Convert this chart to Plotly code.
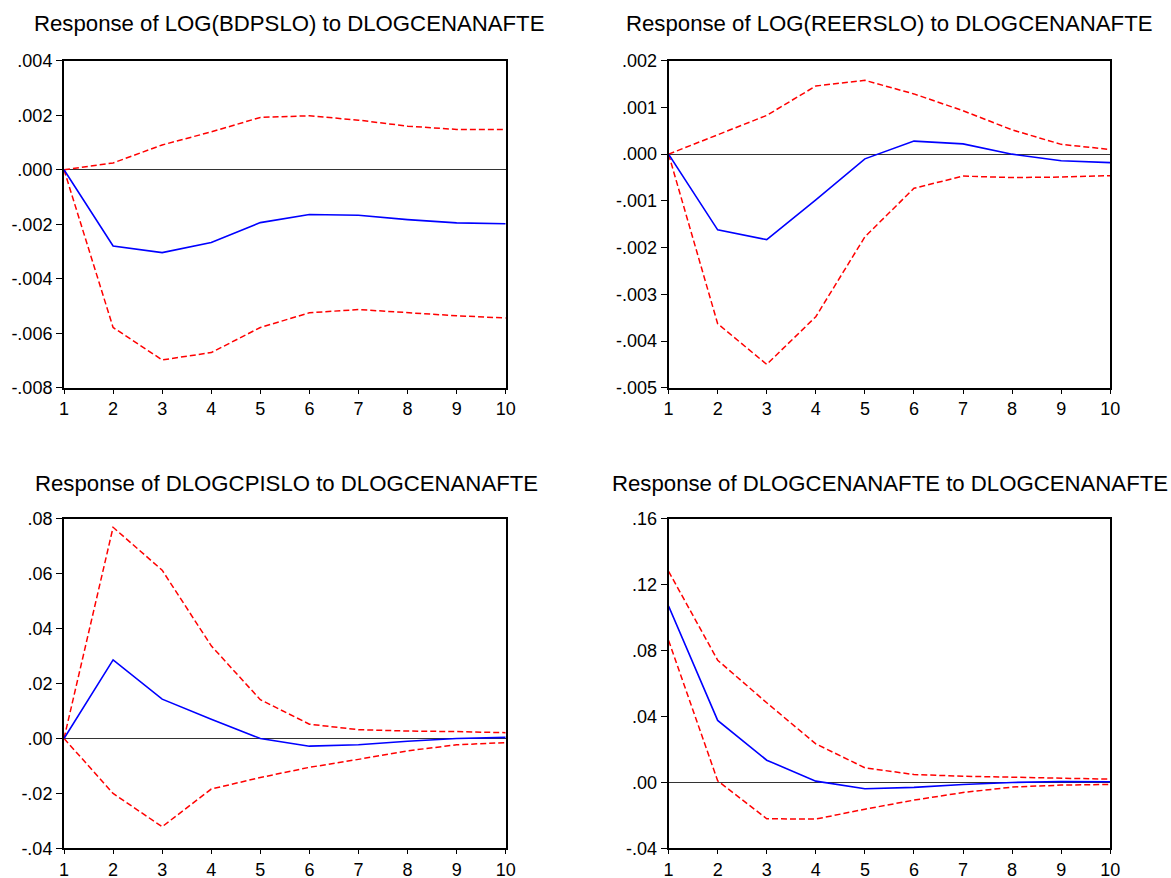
import plotly.graph_objects as go

periods = [1, 2, 3, 4, 5, 6, 7, 8, 9, 10]

titles = [
    "Response of LOG(BDPSLO) to DLOGCENANAFTE",
    "Response of LOG(REERSLO) to DLOGCENANAFTE",
    "Response of DLOGCPISLO to DLOGCENANAFTE",
    "Response of DLOGCENANAFTE to DLOGCENANAFTE",
]

# Panel 1: LOG(BDPSLO)
bdp_resp = [0.0, -0.00280, -0.00304, -0.00267, -0.00194, -0.00164, -0.00167, -0.00183, -0.00195, -0.00198]
bdp_upper = [0.0, 0.00025, 0.00091, 0.00139, 0.00192, 0.00198, 0.00182, 0.00160, 0.00148, 0.00148]
bdp_lower = [0.0, -0.00579, -0.00698, -0.00671, -0.00579, -0.00525, -0.00513, -0.00525, -0.00536, -0.00544]

# Panel 2: LOG(REERSLO)
reer_resp = [0.0, -0.00162, -0.00183, -0.00098, -0.00010, 0.00028, 0.00022, 0.00000, -0.00014, -0.00018]
reer_upper = [0.0, 0.00042, 0.00083, 0.00146, 0.00158, 0.00129, 0.00093, 0.00052, 0.00021, 0.00010]
reer_lower = [0.0, -0.00363, -0.00450, -0.00348, -0.00177, -0.00073, -0.00047, -0.00050, -0.00049, -0.00046]

# Panel 3: DLOGCPISLO
cpi_resp = [0.0, 0.0286, 0.0143, 0.0070, 0.0000, -0.0028, -0.0023, -0.0010, 0.0000, 0.0004]
cpi_upper = [0.0, 0.0768, 0.0612, 0.0337, 0.0141, 0.0052, 0.0032, 0.0027, 0.0025, 0.0021]
cpi_lower = [0.0, -0.0200, -0.0321, -0.0184, -0.0142, -0.0105, -0.0076, -0.0045, -0.0023, -0.0015]

# Panel 4: DLOGCENANAFTE
oil_resp = [0.1069, 0.0376, 0.0135, 0.0008, -0.0038, -0.0030, -0.0012, 0.0000, 0.0006, 0.0004]
oil_upper = [0.1280, 0.0741, 0.0483, 0.0234, 0.0089, 0.0048, 0.0038, 0.0032, 0.0026, 0.0020]
oil_lower = [0.0861, 0.0010, -0.0220, -0.0222, -0.0162, -0.0107, -0.0061, -0.0028, -0.0016, -0.0012]

y1_ticks = [-0.008, -0.006, -0.004, -0.002, 0.0, 0.002, 0.004]
y1_text = ["-.008", "-.006", "-.004", "-.002", ".000", ".002", ".004"]
y2_ticks = [-0.005, -0.004, -0.003, -0.002, -0.001, 0.0, 0.001, 0.002]
y2_text = ["-.005", "-.004", "-.003", "-.002", "-.001", ".000", ".001", ".002"]
y3_ticks = [-0.04, -0.02, 0.0, 0.02, 0.04, 0.06, 0.08]
y3_text = ["-.04", "-.02", ".00", ".02", ".04", ".06", ".08"]
y4_ticks = [-0.04, 0.0, 0.04, 0.08, 0.12, 0.16]
y4_text = ["-.04", ".00", ".04", ".08", ".12", ".16"]

panels = [
    (bdp_resp, bdp_upper, bdp_lower, y1_ticks, y1_text),
    (reer_resp, reer_upper, reer_lower, y2_ticks, y2_text),
    (cpi_resp, cpi_upper, cpi_lower, y3_ticks, y3_text),
    (oil_resp, oil_upper, oil_lower, y4_ticks, y4_text),
]

W, H = 1180, 880
# calibration of figure pixels -> photographed pixels
SX, MX = 0.988, 5.0
SY, MY = 0.976, 9.0


def fx(px):
    return px / SX - MX


def fy(py):
    return py / SY - MY


# target pixel boxes in the picture (left, right, top, bottom)
boxes = [
    (64, 506, 60, 390),
    (669, 1111, 60, 390),
    (64, 506, 522, 855),
    (669, 1111, 522, 855),
]
title_pos = [(289, 22), (890, 22), (287, 487), (891, 487)]

FONT = "Liberation Sans, Arial, sans-serif"
fig = go.Figure()
layout = {}
annotations = []
for i, (resp, up, lo, yt, ytxt) in enumerate(panels):
    n = i + 1
    xa = "x" if n == 1 else f"x{n}"
    ya = "y" if n == 1 else f"y{n}"
    for vals, color, dash, width in [
        (up, "#FF0000", "6px,3px", 1.5),
        (lo, "#FF0000", "6px,3px", 1.5),
        (resp, "#0000FF", "solid", 1.6),
    ]:
        fig.add_trace(go.Scatter(x=periods, y=vals, mode="lines", xaxis=xa, yaxis=ya,
                                 line=dict(color=color, dash=dash, width=width),
                                 showlegend=False, hoverinfo="skip"))
    l, r, t, b = boxes[i]
    l, r, t, b = fx(l), fx(r), fy(t), fy(b)
    xkey = "xaxis" if n == 1 else f"xaxis{n}"
    ykey = "yaxis" if n == 1 else f"yaxis{n}"
    layout[xkey] = dict(domain=[l / W, r / W], anchor=ya, range=[1, 10],
                        tickvals=periods, ticktext=[str(p) for p in periods],
                        showline=True, linecolor="black", linewidth=2, mirror=True,
                        ticks="outside", ticklen=4, tickcolor="black", tickwidth=1,
                        showgrid=False, zeroline=False,
                        tickfont=dict(family=FONT, size=18, color="black"))
    layout[ykey] = dict(domain=[1 - b / H, 1 - t / H], anchor=xa, range=[yt[0], yt[-1]],
                        tickvals=yt, ticktext=ytxt,
                        showline=True, linecolor="black", linewidth=2, mirror=True,
                        ticks="outside", ticklen=6, tickcolor="black", tickwidth=1,
                        showgrid=False, zeroline=True, zerolinecolor="#333333", zerolinewidth=1,
                        tickfont=dict(family=FONT, size=18, color="black"))
    tx, ty = title_pos[i]
    annotations.append(dict(text=titles[i], x=fx(tx) / W, y=1 - fy(ty) / H,
                            xref="paper", yref="paper",
                            showarrow=False, xanchor="center", yanchor="middle",
                            font=dict(family=FONT, size=22.2, color="black")))

fig.update_layout(width=W, height=H, margin=dict(l=0, r=0, t=0, b=0),
                  paper_bgcolor="white", plot_bgcolor="white",
                  annotations=annotations, **layout)
fig.write_html("out.html")
